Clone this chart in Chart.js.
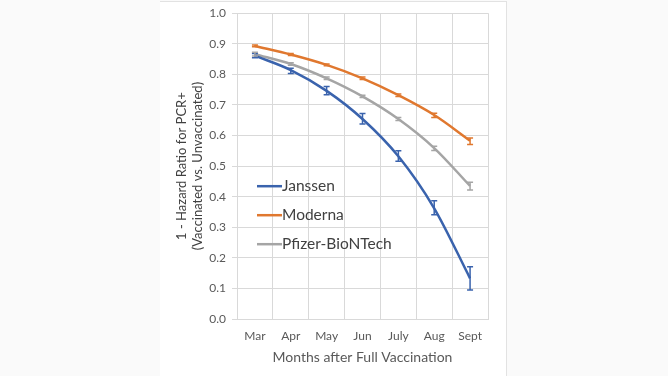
<!DOCTYPE html>
<html>
<head>
<meta charset="utf-8">
<script src="https://cdn.jsdelivr.net/npm/chart.js@4"></script>
<style>
  html, body { margin: 0; padding: 0; background: #fafafa; }
  #frame { position: absolute; left: 160px; top: 1px; width: 346px; height: 380px; background: #ffffff; border-top: 1px solid #e2e2e2; border-right: 1px solid #e2e2e2; }
  #wrap { position: absolute; left: 0; top: 0; width: 668px; height: 376px; }
</style>
</head>
<body>
<div id="frame"></div>
<div id="wrap"><canvas id="c" width="668" height="376"></canvas></div>
<script>
const categories = ["Mar", "Apr", "May", "Jun", "July", "Aug", "Sept"];
const yTicks = [0.0, 0.1, 0.2, 0.3, 0.4, 0.5, 0.6, 0.7, 0.8, 0.9, 1.0];

const janssen    = [0.861, 0.814, 0.746, 0.654, 0.532, 0.362, 0.133];
const janssenLo  = [0.854, 0.803, 0.733, 0.638, 0.516, 0.341, 0.095];
const janssenHi  = [0.868, 0.820, 0.760, 0.672, 0.550, 0.387, 0.171];

const moderna    = [0.893, 0.865, 0.831, 0.787, 0.732, 0.667, 0.583];
const modernaLo  = [0.890, 0.862, 0.828, 0.783, 0.728, 0.659, 0.571];
const modernaHi  = [0.896, 0.868, 0.834, 0.791, 0.736, 0.673, 0.592];

const pfizer     = [0.866, 0.834, 0.787, 0.728, 0.654, 0.559, 0.435];
const pfizerLo   = [0.860, 0.830, 0.783, 0.724, 0.649, 0.551, 0.422];
const pfizerHi   = [0.872, 0.838, 0.791, 0.732, 0.659, 0.565, 0.447];

const seriesNames = ["Janssen", "Moderna", "Pfizer-BioNTech"];
const colors = ["#3a63ad", "#e0782f", "#a5a5a5"];

const FONT = "Lato, 'Open Sans', sans-serif";

const errorBars = {
  id: 'errorBars',
  afterDatasetsDraw(chart) {
    const ctx = chart.ctx;
    const ys = chart.scales.y;
    chart.data.datasets.forEach((ds, i) => {
      const meta = chart.getDatasetMeta(i);
      ctx.save();
      ctx.strokeStyle = ds.borderColor;
      ctx.lineWidth = 1.5;
      meta.data.forEach((pt, j) => {
        const x = pt.x;
        const y1 = ys.getPixelForValue(ds.lo[j]);
        const y2 = ys.getPixelForValue(ds.hi[j]);
        ctx.beginPath();
        ctx.moveTo(x, y1); ctx.lineTo(x, y2);
        ctx.moveTo(x - 3, y1); ctx.lineTo(x + 3, y1);
        ctx.moveTo(x - 3, y2); ctx.lineTo(x + 3, y2);
        ctx.stroke();
      });
      ctx.restore();
    });
  }
};

const innerLegend = {
  id: 'innerLegend',
  afterDraw(chart) {
    const ctx = chart.ctx;
    const a = chart.chartArea;
    ctx.save();
    ctx.font = "15.5px " + FONT;
    ctx.textBaseline = 'middle';
    chart.data.datasets.forEach((ds, i) => {
      const y = a.top + 173 + i * 29;
      const x0 = a.left + 20;
      ctx.strokeStyle = ds.borderColor;
      ctx.lineWidth = 2.5;
      ctx.beginPath();
      ctx.moveTo(x0, y); ctx.lineTo(x0 + 25, y);
      ctx.stroke();
      ctx.fillStyle = '#404040';
      ctx.fillText(ds.label, x0 + 25, y);
    });
    ctx.restore();
  }
};

const mk = (i, data, lo, hi) => ({
  label: seriesNames[i],
  data: data, lo: lo, hi: hi,
  borderColor: colors[i],
  backgroundColor: colors[i],
  borderWidth: 2.5,
  pointRadius: 0,
  tension: 0.4,
  cubicInterpolationMode: 'monotone',
  fill: false
});

new Chart(document.getElementById('c'), {
  type: 'line',
  data: {
    labels: categories,
    datasets: [
      mk(0, janssen, janssenLo, janssenHi),
      mk(1, moderna, modernaLo, modernaHi),
      mk(2, pfizer, pfizerLo, pfizerHi)
    ]
  },
  options: {
    responsive: false,
    animation: false,
    devicePixelRatio: 1,
    layout: { padding: { left: 172, right: 180, top: 11, bottom: 7 } },
    plugins: { legend: { display: false }, tooltip: { enabled: false } },
    scales: {
      x: {
        offset: true,
        afterFit(scale) { scale.height = 50; },
        grid: { offset: true, color: '#d9d9d9', drawTicks: false, lineWidth: 1 },
        border: { color: '#d9d9d9' },
        ticks: { color: '#595959', font: { family: FONT, size: 12 }, padding: 10 },
        title: { display: true, text: 'Months after Full Vaccination', color: '#595959', font: { family: FONT, size: 14 }, padding: { top: 0, bottom: 3 } }
      },
      y: {
        min: 0, max: 1,
        afterFit(scale) { scale.width = 65; },
        afterBuildTicks(scale) { scale.ticks = yTicks.map(v => ({ value: v })); },
        grid: { color: '#d9d9d9', tickLength: 5 },
        border: { color: '#d9d9d9' },
        ticks: { color: '#595959', font: { family: FONT, size: 12 }, padding: 6, callback: v => Number(v).toFixed(1) },
        title: { display: true, text: ['1 - Hazard Ratio for PCR+', '(Vaccinated vs. Unvaccinated)'], color: '#404040', font: { family: FONT, size: 13 }, padding: { top: 2, bottom: 0 } }
      }
    }
  },
  plugins: [errorBars, innerLegend]
});
</script>
</body>
</html>
